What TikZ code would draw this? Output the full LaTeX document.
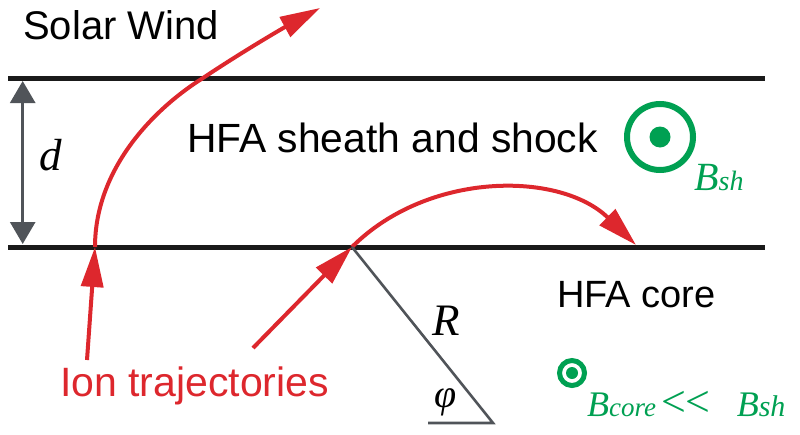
\documentclass[tikz,border=0pt]{standalone}
\usepackage{fontspec}
\setmainfont{Liberation Sans}
\newfontfamily\timesf{Liberation Serif}
\usetikzlibrary{arrows.meta}
\definecolor{ired}{HTML}{DD272D}
\definecolor{bgreen}{HTML}{00A052}
\definecolor{dgray}{HTML}{505459}
\definecolor{lblack}{HTML}{1A1A1A}
\begin{document}
\begin{tikzpicture}[x=1pt,y=-1pt,
  boundary/.style={lblack, line width=5pt},
  traj/.style={ired, line width=4pt, -{Triangle[length=40pt,width=22pt]}},
  gline/.style={dgray, line width=2.6pt},
  lbl/.style={inner sep=0pt, anchor=base west, font=\fontsize{40}{46}\selectfont},
  mlbl/.style={inner sep=0pt, font=\timesf\itshape\fontsize{45}{50}\selectfont},
  ring/.style={circle, draw=bgreen, inner sep=0pt},
  dot/.style={circle, fill=bgreen, inner sep=0pt}]
\useasboundingbox (0,0) rectangle (800,434);
% boundaries
\coordinate (tl) at (8,78);
\coordinate (tr) at (765,78);
\coordinate (bl) at (8,247);
\coordinate (br) at (765,247);
\draw[boundary] (tl) -- (tr);
\draw[boundary] (bl) -- (br);
% thickness d
\coordinate (dtop) at (22.7,81);
\coordinate (dbot) at (22.7,244);
\draw[gline, line width=2.7pt, {Triangle[length=22pt,width=25pt]}-{Triangle[length=22pt,width=25pt]}] (dtop) -- (dbot);
\node[mlbl, anchor=base west] (dlab) at (39,170) {d};
% texts
\node[lbl] (sw) at (23,39) {Solar Wind};
\node[lbl, font=\fontsize{40.8}{46}\selectfont] (sheath) at (187,152) {HFA sheath and shock};
\node[lbl, font=\fontsize{38}{42}\selectfont] (core) at (557,307) {HFA core};
\node[lbl, text=ired, font=\fontsize{41}{46}\selectfont] (ion) at (60,396) {Ion trajectories};
% trajectory 1
\coordinate (s1) at (87,360);
\coordinate (p1) at (95,247);
\coordinate (q1) at (203,78);
\coordinate (e1) at (320,8);
\draw[traj] (s1) -- (p1);
\draw[traj] (p1) .. controls (95,170) and (152,110) .. (q1) .. controls (245,50) and (285,27) .. (e1);
% trajectory 2
\coordinate (s2) at (253,348);
\coordinate (p2) at (352,247);
\coordinate (e2) at (636,245);
\draw[traj] (s2) -- (p2);
\draw[traj] (p2) .. controls (428,171) and (560,171) .. (e2);
% radius and angle
\coordinate (ctr) at (493,423);
\coordinate (hl) at (428,423);
\draw[gline] (p2) -- (ctr) -- (hl);
\node[mlbl, anchor=base west] (Rlab) at (432,335) {R};
\node[inner sep=0pt, anchor=base west, font=\timesf\itshape\fontsize{40}{44}\selectfont] (philab) at (434,407) {φ};
% B in sheath
\node[ring, line width=6pt, minimum size=66pt] (bshring) at (660,137) {};
\node[dot, minimum size=21pt] (bshdot) at (bshring.center) {};
\node[inner sep=0pt, anchor=base west, text=bgreen] (bshlab) at (694,190)
  {\timesf\itshape{\fontsize{40}{44}\selectfont B}{\fontsize{28}{30}\selectfont sh}};
% B in core
\node[ring, line width=5pt, minimum size=25pt] (bcring) at (572,373) {};
\node[dot, minimum size=12pt] (bcdot) at (bcring.center) {};
\node[inner sep=0pt, anchor=base west, text=bgreen] (bclab) at (587,416)
  {\timesf{\itshape\fontsize{36}{40}\selectfont B}{\itshape\fontsize{27}{30}\selectfont core}\hspace{5pt}{\fontsize{44}{48}\selectfont <<}\hspace{26pt}{\itshape\fontsize{36}{40}\selectfont B}{\itshape\fontsize{30}{32}\selectfont sh}};
\end{tikzpicture}
\end{document}
